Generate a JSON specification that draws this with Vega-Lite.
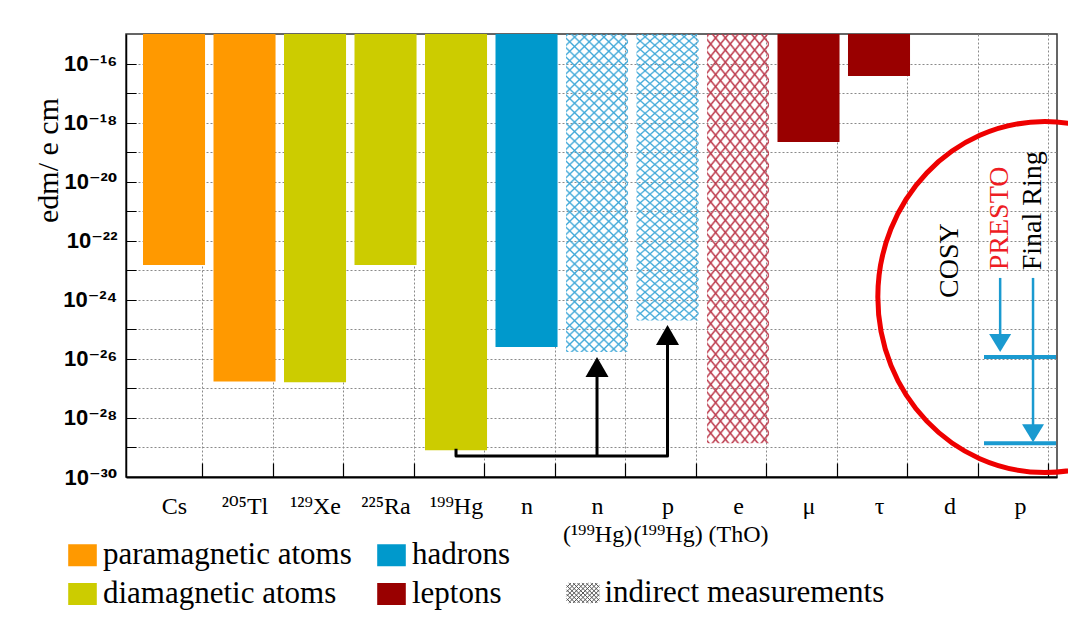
{
"$schema": "https://vega.github.io/schema/vega-lite/v6.json",
"width": 931, "height": 443,
"autosize": {"type": "none"},
"padding": {"left": 126, "top": 34, "right": 11, "bottom": 150},
"background": "white",
"config": {"view": {"stroke": "#333", "strokeWidth": 1.5}, "font": "Liberation Serif, DejaVu Serif", "legend": {"labelFont": "Liberation Serif, DejaVu Serif", "labelFontSize": 31, "labelColor": "black"}},
"datasets": {
"bars": [
{"cat":"Cs","group":"paramagnetic atoms","kind":"direct","value":1.5e-23},
{"cat":"²⁰⁵Tl","group":"paramagnetic atoms","kind":"direct","value":1.7e-27},
{"cat":"¹²⁹Xe","group":"diamagnetic atoms","kind":"direct","value":1.6e-27},
{"cat":"²²⁵Ra","group":"diamagnetic atoms","kind":"direct","value":1.5e-23},
{"cat":"¹⁹⁹Hg","group":"diamagnetic atoms","kind":"direct","value":8.0e-30},
{"cat":"n","group":"hadrons","kind":"direct","value":2.5e-26},
{"cat":"n|(¹⁹⁹Hg)","group":"hadrons","kind":"indirect","value":1.7e-26},
{"cat":"p|(¹⁹⁹Hg)","group":"hadrons","kind":"indirect","value":2.0e-25},
{"cat":"e|(ThO)","group":"leptons","kind":"indirect","value":1.4e-29},
{"cat":"μ","group":"leptons","kind":"direct","value":2.2e-19},
{"cat":"τ","group":"leptons","kind":"direct","value":3.8e-17}
],
"conn": [
{"path":"p","ord":1,"cat":"¹⁹⁹Hg","value":9e-30},
{"path":"p","ord":2,"cat":"¹⁹⁹Hg","value":5.1e-30},
{"path":"p","ord":3,"cat":"p|(¹⁹⁹Hg)","value":5.1e-30},
{"path":"p","ord":4,"cat":"p|(¹⁹⁹Hg)","value":6.4e-26},
{"path":"n","ord":1,"cat":"n|(¹⁹⁹Hg)","value":5.1e-30},
{"path":"n","ord":2,"cat":"n|(¹⁹⁹Hg)","value":5.3e-27}
],
"heads": [
{"cat":"n|(¹⁹⁹Hg)","value":1.15e-26},
{"cat":"p|(¹⁹⁹Hg)","value":1.4e-25}
],
"ring": [
{"cat":"p","label":"PRESTO","tv":1e-23,"from":5.5e-24,"to":3.7e-26,"tip":1.7e-26,"line":1.15e-26},
{"cat":"p","label":"Final Ring","tv":1e-23,"from":5.5e-24,"to":3.3e-29,"tip":1.5e-29,"line":1.4e-29}
]
},
"layer": [
{
"data": {"name": "bars"},
"transform": [{"filter": "datum.kind === 'direct'"}],
"mark": {"type": "bar"},
"encoding": {
"x": {"field": "cat", "type": "nominal", "sort": null,
"scale": {"type": "band", "domain": ["Cs","²⁰⁵Tl","¹²⁹Xe","²²⁵Ra","¹⁹⁹Hg","n","n|(¹⁹⁹Hg)","p|(¹⁹⁹Hg)","e|(ThO)","μ","τ","d","p"], "paddingInner": 0.12, "paddingOuter": 0.163, "align": 0.74},
"axis": {"title": null, "labelExpr": "split(datum.label, '|')", "labelFont": "Liberation Serif, DejaVu Serif", "labelFontSize": 24, "labelColor": "black", "labelLineHeight": 28, "labelPadding": 31, "labelAngle": 0, "labelOverlap": false, "labelBound": false, "labelLimit": 0, "tickSize": -14, "tickColor": "black", "tickWidth": 1.2, "tickOffset": 28, "labelOffset": -28, "grid": true, "gridDash": [2,2], "gridColor": "#8a8a8a", "gridWidth": 1, "domainColor": "black", "domainWidth": 2}},
"y": {"field": "value", "type": "quantitative",
"scale": {"type": "log", "domain": [1e-30, 1e-15], "nice": false},
"axis": {"title": "edm/ e cm", "titleFont": "Liberation Serif, DejaVu Serif", "titleFontSize": 30, "titleFontWeight": "normal", "titleColor": "black", "titleX": -78, "titleY": 126, "titleBaseline": "middle", "titleAngle": 270,
"values": [1e-30,1e-29,1e-28,1e-27,1e-26,1e-25,1e-24,1e-23,1e-22,1e-21,1e-20,1e-19,1e-18,1e-17,1e-16],
"labelExpr": "(round(-log(datum.value)/LN10) % 2 == 1) ? '' : ('10⁻' + substring('⁰¹²³⁴⁵⁶⁷⁸⁹', floor(round(-log(datum.value)/LN10)/10), floor(round(-log(datum.value)/LN10)/10)+1) + substring('⁰¹²³⁴⁵⁶⁷⁸⁹', round(-log(datum.value)/LN10)%10, round(-log(datum.value)/LN10)%10+1))",
"labelFont": "Liberation Sans, DejaVu Sans", "labelFontWeight": "bold", "labelFontSize": 22, "labelColor": "black", "labelPadding": 19, "labelOverlap": false, "tickSize": -10, "tickColor": "black", "grid": true, "gridDash": [2,2], "gridColor": "#8a8a8a", "gridWidth": 1, "domainColor": "black", "domainWidth": 1.5}},
"y2": {"datum": 1e-15},
"color": {"field": "group", "type": "nominal",
"scale": {"domain": ["paramagnetic atoms","diamagnetic atoms","hadrons","leptons"], "range": ["#ff9900","#cccc00","#0099cc","#990000"]},
"legend": {"title": null, "orient": "none", "legendX": -59, "legendY": 505.5, "columns": 2, "symbolType": "M-1.3,-1H1.3V1H-1.3Z", "symbolSize": 484, "symbolStrokeWidth": 0, "symbolOpacity": 1, "labelFont": "Liberation Serif", "labelFontSize": 31, "labelColor": "black", "labelLimit": 400, "labelOffset": 5, "columnPadding": 24, "rowPadding": 7, "padding": 0}}
}
},
{
"data": {"name": "bars"},
"transform": [{"filter": "datum.kind === 'indirect' && datum.group === 'hadrons'"}],
"mark": {"type": "bar", "fill": {"gradient":"linear","x1":0,"y1":0,"x2":0.2166,"y2":1.148,"stops":[
{"offset":0,"color":"#3fa8d800"},{"offset":0.005,"color":"#3fa8d8"},{"offset":0.01,"color":"#3fa8d800"},
{"offset":0.025,"color":"#3fa8d800"},{"offset":0.03,"color":"#3fa8d8"},{"offset":0.035,"color":"#3fa8d800"},
{"offset":0.05,"color":"#3fa8d800"},{"offset":0.055,"color":"#3fa8d8"},{"offset":0.06,"color":"#3fa8d800"},
{"offset":0.075,"color":"#3fa8d800"},{"offset":0.08,"color":"#3fa8d8"},{"offset":0.085,"color":"#3fa8d800"},
{"offset":0.1,"color":"#3fa8d800"},{"offset":0.105,"color":"#3fa8d8"},{"offset":0.11,"color":"#3fa8d800"},
{"offset":0.125,"color":"#3fa8d800"},{"offset":0.13,"color":"#3fa8d8"},{"offset":0.135,"color":"#3fa8d800"},
{"offset":0.15,"color":"#3fa8d800"},{"offset":0.155,"color":"#3fa8d8"},{"offset":0.16,"color":"#3fa8d800"},
{"offset":0.175,"color":"#3fa8d800"},{"offset":0.18,"color":"#3fa8d8"},{"offset":0.185,"color":"#3fa8d800"},
{"offset":0.2,"color":"#3fa8d800"},{"offset":0.205,"color":"#3fa8d8"},{"offset":0.21,"color":"#3fa8d800"},
{"offset":0.225,"color":"#3fa8d800"},{"offset":0.23,"color":"#3fa8d8"},{"offset":0.235,"color":"#3fa8d800"},
{"offset":0.25,"color":"#3fa8d800"},{"offset":0.255,"color":"#3fa8d8"},{"offset":0.26,"color":"#3fa8d800"},
{"offset":0.275,"color":"#3fa8d800"},{"offset":0.28,"color":"#3fa8d8"},{"offset":0.285,"color":"#3fa8d800"},
{"offset":0.3,"color":"#3fa8d800"},{"offset":0.305,"color":"#3fa8d8"},{"offset":0.31,"color":"#3fa8d800"},
{"offset":0.325,"color":"#3fa8d800"},{"offset":0.33,"color":"#3fa8d8"},{"offset":0.335,"color":"#3fa8d800"},
{"offset":0.35,"color":"#3fa8d800"},{"offset":0.355,"color":"#3fa8d8"},{"offset":0.36,"color":"#3fa8d800"},
{"offset":0.375,"color":"#3fa8d800"},{"offset":0.38,"color":"#3fa8d8"},{"offset":0.385,"color":"#3fa8d800"},
{"offset":0.4,"color":"#3fa8d800"},{"offset":0.405,"color":"#3fa8d8"},{"offset":0.41,"color":"#3fa8d800"},
{"offset":0.425,"color":"#3fa8d800"},{"offset":0.43,"color":"#3fa8d8"},{"offset":0.435,"color":"#3fa8d800"},
{"offset":0.45,"color":"#3fa8d800"},{"offset":0.455,"color":"#3fa8d8"},{"offset":0.46,"color":"#3fa8d800"},
{"offset":0.475,"color":"#3fa8d800"},{"offset":0.48,"color":"#3fa8d8"},{"offset":0.485,"color":"#3fa8d800"},
{"offset":0.5,"color":"#3fa8d800"},{"offset":0.505,"color":"#3fa8d8"},{"offset":0.51,"color":"#3fa8d800"},
{"offset":0.525,"color":"#3fa8d800"},{"offset":0.53,"color":"#3fa8d8"},{"offset":0.535,"color":"#3fa8d800"},
{"offset":0.55,"color":"#3fa8d800"},{"offset":0.555,"color":"#3fa8d8"},{"offset":0.56,"color":"#3fa8d800"},
{"offset":0.575,"color":"#3fa8d800"},{"offset":0.58,"color":"#3fa8d8"},{"offset":0.585,"color":"#3fa8d800"},
{"offset":0.6,"color":"#3fa8d800"},{"offset":0.605,"color":"#3fa8d8"},{"offset":0.61,"color":"#3fa8d800"},
{"offset":0.625,"color":"#3fa8d800"},{"offset":0.63,"color":"#3fa8d8"},{"offset":0.635,"color":"#3fa8d800"},
{"offset":0.65,"color":"#3fa8d800"},{"offset":0.655,"color":"#3fa8d8"},{"offset":0.66,"color":"#3fa8d800"},
{"offset":0.675,"color":"#3fa8d800"},{"offset":0.68,"color":"#3fa8d8"},{"offset":0.685,"color":"#3fa8d800"},
{"offset":0.7,"color":"#3fa8d800"},{"offset":0.705,"color":"#3fa8d8"},{"offset":0.71,"color":"#3fa8d800"},
{"offset":0.725,"color":"#3fa8d800"},{"offset":0.73,"color":"#3fa8d8"},{"offset":0.735,"color":"#3fa8d800"},
{"offset":0.75,"color":"#3fa8d800"},{"offset":0.755,"color":"#3fa8d8"},{"offset":0.76,"color":"#3fa8d800"},
{"offset":0.775,"color":"#3fa8d800"},{"offset":0.78,"color":"#3fa8d8"},{"offset":0.785,"color":"#3fa8d800"},
{"offset":0.8,"color":"#3fa8d800"},{"offset":0.805,"color":"#3fa8d8"},{"offset":0.81,"color":"#3fa8d800"},
{"offset":0.825,"color":"#3fa8d800"},{"offset":0.83,"color":"#3fa8d8"},{"offset":0.835,"color":"#3fa8d800"},
{"offset":0.85,"color":"#3fa8d800"},{"offset":0.855,"color":"#3fa8d8"},{"offset":0.86,"color":"#3fa8d800"},
{"offset":0.875,"color":"#3fa8d800"},{"offset":0.88,"color":"#3fa8d8"},{"offset":0.885,"color":"#3fa8d800"},
{"offset":0.9,"color":"#3fa8d800"},{"offset":0.905,"color":"#3fa8d8"},{"offset":0.91,"color":"#3fa8d800"},
{"offset":0.925,"color":"#3fa8d800"},{"offset":0.93,"color":"#3fa8d8"},{"offset":0.935,"color":"#3fa8d800"},
{"offset":0.95,"color":"#3fa8d800"},{"offset":0.955,"color":"#3fa8d8"},{"offset":0.96,"color":"#3fa8d800"},
{"offset":0.975,"color":"#3fa8d800"},{"offset":0.98,"color":"#3fa8d8"},{"offset":0.985,"color":"#3fa8d800"}
]}},
"encoding": {"x": {"field": "cat", "type": "nominal"}, "y": {"field": "value", "type": "quantitative"}, "y2": {"datum": 1e-15}}
},
{
"data": {"name": "bars"},
"transform": [{"filter": "datum.kind === 'indirect' && datum.group === 'hadrons'"}],
"mark": {"type": "bar", "fill": {"gradient":"linear","x1":0,"y1":1,"x2":0.2166,"y2":-0.148,"stops":[
{"offset":0,"color":"#3fa8d800"},{"offset":0.005,"color":"#3fa8d8"},{"offset":0.01,"color":"#3fa8d800"},
{"offset":0.025,"color":"#3fa8d800"},{"offset":0.03,"color":"#3fa8d8"},{"offset":0.035,"color":"#3fa8d800"},
{"offset":0.05,"color":"#3fa8d800"},{"offset":0.055,"color":"#3fa8d8"},{"offset":0.06,"color":"#3fa8d800"},
{"offset":0.075,"color":"#3fa8d800"},{"offset":0.08,"color":"#3fa8d8"},{"offset":0.085,"color":"#3fa8d800"},
{"offset":0.1,"color":"#3fa8d800"},{"offset":0.105,"color":"#3fa8d8"},{"offset":0.11,"color":"#3fa8d800"},
{"offset":0.125,"color":"#3fa8d800"},{"offset":0.13,"color":"#3fa8d8"},{"offset":0.135,"color":"#3fa8d800"},
{"offset":0.15,"color":"#3fa8d800"},{"offset":0.155,"color":"#3fa8d8"},{"offset":0.16,"color":"#3fa8d800"},
{"offset":0.175,"color":"#3fa8d800"},{"offset":0.18,"color":"#3fa8d8"},{"offset":0.185,"color":"#3fa8d800"},
{"offset":0.2,"color":"#3fa8d800"},{"offset":0.205,"color":"#3fa8d8"},{"offset":0.21,"color":"#3fa8d800"},
{"offset":0.225,"color":"#3fa8d800"},{"offset":0.23,"color":"#3fa8d8"},{"offset":0.235,"color":"#3fa8d800"},
{"offset":0.25,"color":"#3fa8d800"},{"offset":0.255,"color":"#3fa8d8"},{"offset":0.26,"color":"#3fa8d800"},
{"offset":0.275,"color":"#3fa8d800"},{"offset":0.28,"color":"#3fa8d8"},{"offset":0.285,"color":"#3fa8d800"},
{"offset":0.3,"color":"#3fa8d800"},{"offset":0.305,"color":"#3fa8d8"},{"offset":0.31,"color":"#3fa8d800"},
{"offset":0.325,"color":"#3fa8d800"},{"offset":0.33,"color":"#3fa8d8"},{"offset":0.335,"color":"#3fa8d800"},
{"offset":0.35,"color":"#3fa8d800"},{"offset":0.355,"color":"#3fa8d8"},{"offset":0.36,"color":"#3fa8d800"},
{"offset":0.375,"color":"#3fa8d800"},{"offset":0.38,"color":"#3fa8d8"},{"offset":0.385,"color":"#3fa8d800"},
{"offset":0.4,"color":"#3fa8d800"},{"offset":0.405,"color":"#3fa8d8"},{"offset":0.41,"color":"#3fa8d800"},
{"offset":0.425,"color":"#3fa8d800"},{"offset":0.43,"color":"#3fa8d8"},{"offset":0.435,"color":"#3fa8d800"},
{"offset":0.45,"color":"#3fa8d800"},{"offset":0.455,"color":"#3fa8d8"},{"offset":0.46,"color":"#3fa8d800"},
{"offset":0.475,"color":"#3fa8d800"},{"offset":0.48,"color":"#3fa8d8"},{"offset":0.485,"color":"#3fa8d800"},
{"offset":0.5,"color":"#3fa8d800"},{"offset":0.505,"color":"#3fa8d8"},{"offset":0.51,"color":"#3fa8d800"},
{"offset":0.525,"color":"#3fa8d800"},{"offset":0.53,"color":"#3fa8d8"},{"offset":0.535,"color":"#3fa8d800"},
{"offset":0.55,"color":"#3fa8d800"},{"offset":0.555,"color":"#3fa8d8"},{"offset":0.56,"color":"#3fa8d800"},
{"offset":0.575,"color":"#3fa8d800"},{"offset":0.58,"color":"#3fa8d8"},{"offset":0.585,"color":"#3fa8d800"},
{"offset":0.6,"color":"#3fa8d800"},{"offset":0.605,"color":"#3fa8d8"},{"offset":0.61,"color":"#3fa8d800"},
{"offset":0.625,"color":"#3fa8d800"},{"offset":0.63,"color":"#3fa8d8"},{"offset":0.635,"color":"#3fa8d800"},
{"offset":0.65,"color":"#3fa8d800"},{"offset":0.655,"color":"#3fa8d8"},{"offset":0.66,"color":"#3fa8d800"},
{"offset":0.675,"color":"#3fa8d800"},{"offset":0.68,"color":"#3fa8d8"},{"offset":0.685,"color":"#3fa8d800"},
{"offset":0.7,"color":"#3fa8d800"},{"offset":0.705,"color":"#3fa8d8"},{"offset":0.71,"color":"#3fa8d800"},
{"offset":0.725,"color":"#3fa8d800"},{"offset":0.73,"color":"#3fa8d8"},{"offset":0.735,"color":"#3fa8d800"},
{"offset":0.75,"color":"#3fa8d800"},{"offset":0.755,"color":"#3fa8d8"},{"offset":0.76,"color":"#3fa8d800"},
{"offset":0.775,"color":"#3fa8d800"},{"offset":0.78,"color":"#3fa8d8"},{"offset":0.785,"color":"#3fa8d800"},
{"offset":0.8,"color":"#3fa8d800"},{"offset":0.805,"color":"#3fa8d8"},{"offset":0.81,"color":"#3fa8d800"},
{"offset":0.825,"color":"#3fa8d800"},{"offset":0.83,"color":"#3fa8d8"},{"offset":0.835,"color":"#3fa8d800"},
{"offset":0.85,"color":"#3fa8d800"},{"offset":0.855,"color":"#3fa8d8"},{"offset":0.86,"color":"#3fa8d800"},
{"offset":0.875,"color":"#3fa8d800"},{"offset":0.88,"color":"#3fa8d8"},{"offset":0.885,"color":"#3fa8d800"},
{"offset":0.9,"color":"#3fa8d800"},{"offset":0.905,"color":"#3fa8d8"},{"offset":0.91,"color":"#3fa8d800"},
{"offset":0.925,"color":"#3fa8d800"},{"offset":0.93,"color":"#3fa8d8"},{"offset":0.935,"color":"#3fa8d800"},
{"offset":0.95,"color":"#3fa8d800"},{"offset":0.955,"color":"#3fa8d8"},{"offset":0.96,"color":"#3fa8d800"},
{"offset":0.975,"color":"#3fa8d800"},{"offset":0.98,"color":"#3fa8d8"},{"offset":0.985,"color":"#3fa8d800"}
]}},
"encoding": {"x": {"field": "cat", "type": "nominal"}, "y": {"field": "value", "type": "quantitative"}, "y2": {"datum": 1e-15}}
},
{
"data": {"name": "bars"},
"transform": [{"filter": "datum.kind === 'indirect' && datum.group === 'leptons'"}],
"mark": {"type": "bar", "fill": {"gradient":"linear","x1":0,"y1":0,"x2":0.2166,"y2":1.148,"stops":[
{"offset":0,"color":"#bc3a4c00"},{"offset":0.005,"color":"#bc3a4c"},{"offset":0.01,"color":"#bc3a4c00"},
{"offset":0.025,"color":"#bc3a4c00"},{"offset":0.03,"color":"#bc3a4c"},{"offset":0.035,"color":"#bc3a4c00"},
{"offset":0.05,"color":"#bc3a4c00"},{"offset":0.055,"color":"#bc3a4c"},{"offset":0.06,"color":"#bc3a4c00"},
{"offset":0.075,"color":"#bc3a4c00"},{"offset":0.08,"color":"#bc3a4c"},{"offset":0.085,"color":"#bc3a4c00"},
{"offset":0.1,"color":"#bc3a4c00"},{"offset":0.105,"color":"#bc3a4c"},{"offset":0.11,"color":"#bc3a4c00"},
{"offset":0.125,"color":"#bc3a4c00"},{"offset":0.13,"color":"#bc3a4c"},{"offset":0.135,"color":"#bc3a4c00"},
{"offset":0.15,"color":"#bc3a4c00"},{"offset":0.155,"color":"#bc3a4c"},{"offset":0.16,"color":"#bc3a4c00"},
{"offset":0.175,"color":"#bc3a4c00"},{"offset":0.18,"color":"#bc3a4c"},{"offset":0.185,"color":"#bc3a4c00"},
{"offset":0.2,"color":"#bc3a4c00"},{"offset":0.205,"color":"#bc3a4c"},{"offset":0.21,"color":"#bc3a4c00"},
{"offset":0.225,"color":"#bc3a4c00"},{"offset":0.23,"color":"#bc3a4c"},{"offset":0.235,"color":"#bc3a4c00"},
{"offset":0.25,"color":"#bc3a4c00"},{"offset":0.255,"color":"#bc3a4c"},{"offset":0.26,"color":"#bc3a4c00"},
{"offset":0.275,"color":"#bc3a4c00"},{"offset":0.28,"color":"#bc3a4c"},{"offset":0.285,"color":"#bc3a4c00"},
{"offset":0.3,"color":"#bc3a4c00"},{"offset":0.305,"color":"#bc3a4c"},{"offset":0.31,"color":"#bc3a4c00"},
{"offset":0.325,"color":"#bc3a4c00"},{"offset":0.33,"color":"#bc3a4c"},{"offset":0.335,"color":"#bc3a4c00"},
{"offset":0.35,"color":"#bc3a4c00"},{"offset":0.355,"color":"#bc3a4c"},{"offset":0.36,"color":"#bc3a4c00"},
{"offset":0.375,"color":"#bc3a4c00"},{"offset":0.38,"color":"#bc3a4c"},{"offset":0.385,"color":"#bc3a4c00"},
{"offset":0.4,"color":"#bc3a4c00"},{"offset":0.405,"color":"#bc3a4c"},{"offset":0.41,"color":"#bc3a4c00"},
{"offset":0.425,"color":"#bc3a4c00"},{"offset":0.43,"color":"#bc3a4c"},{"offset":0.435,"color":"#bc3a4c00"},
{"offset":0.45,"color":"#bc3a4c00"},{"offset":0.455,"color":"#bc3a4c"},{"offset":0.46,"color":"#bc3a4c00"},
{"offset":0.475,"color":"#bc3a4c00"},{"offset":0.48,"color":"#bc3a4c"},{"offset":0.485,"color":"#bc3a4c00"},
{"offset":0.5,"color":"#bc3a4c00"},{"offset":0.505,"color":"#bc3a4c"},{"offset":0.51,"color":"#bc3a4c00"},
{"offset":0.525,"color":"#bc3a4c00"},{"offset":0.53,"color":"#bc3a4c"},{"offset":0.535,"color":"#bc3a4c00"},
{"offset":0.55,"color":"#bc3a4c00"},{"offset":0.555,"color":"#bc3a4c"},{"offset":0.56,"color":"#bc3a4c00"},
{"offset":0.575,"color":"#bc3a4c00"},{"offset":0.58,"color":"#bc3a4c"},{"offset":0.585,"color":"#bc3a4c00"},
{"offset":0.6,"color":"#bc3a4c00"},{"offset":0.605,"color":"#bc3a4c"},{"offset":0.61,"color":"#bc3a4c00"},
{"offset":0.625,"color":"#bc3a4c00"},{"offset":0.63,"color":"#bc3a4c"},{"offset":0.635,"color":"#bc3a4c00"},
{"offset":0.65,"color":"#bc3a4c00"},{"offset":0.655,"color":"#bc3a4c"},{"offset":0.66,"color":"#bc3a4c00"},
{"offset":0.675,"color":"#bc3a4c00"},{"offset":0.68,"color":"#bc3a4c"},{"offset":0.685,"color":"#bc3a4c00"},
{"offset":0.7,"color":"#bc3a4c00"},{"offset":0.705,"color":"#bc3a4c"},{"offset":0.71,"color":"#bc3a4c00"},
{"offset":0.725,"color":"#bc3a4c00"},{"offset":0.73,"color":"#bc3a4c"},{"offset":0.735,"color":"#bc3a4c00"},
{"offset":0.75,"color":"#bc3a4c00"},{"offset":0.755,"color":"#bc3a4c"},{"offset":0.76,"color":"#bc3a4c00"},
{"offset":0.775,"color":"#bc3a4c00"},{"offset":0.78,"color":"#bc3a4c"},{"offset":0.785,"color":"#bc3a4c00"},
{"offset":0.8,"color":"#bc3a4c00"},{"offset":0.805,"color":"#bc3a4c"},{"offset":0.81,"color":"#bc3a4c00"},
{"offset":0.825,"color":"#bc3a4c00"},{"offset":0.83,"color":"#bc3a4c"},{"offset":0.835,"color":"#bc3a4c00"},
{"offset":0.85,"color":"#bc3a4c00"},{"offset":0.855,"color":"#bc3a4c"},{"offset":0.86,"color":"#bc3a4c00"},
{"offset":0.875,"color":"#bc3a4c00"},{"offset":0.88,"color":"#bc3a4c"},{"offset":0.885,"color":"#bc3a4c00"},
{"offset":0.9,"color":"#bc3a4c00"},{"offset":0.905,"color":"#bc3a4c"},{"offset":0.91,"color":"#bc3a4c00"},
{"offset":0.925,"color":"#bc3a4c00"},{"offset":0.93,"color":"#bc3a4c"},{"offset":0.935,"color":"#bc3a4c00"},
{"offset":0.95,"color":"#bc3a4c00"},{"offset":0.955,"color":"#bc3a4c"},{"offset":0.96,"color":"#bc3a4c00"},
{"offset":0.975,"color":"#bc3a4c00"},{"offset":0.98,"color":"#bc3a4c"},{"offset":0.985,"color":"#bc3a4c00"}
]}},
"encoding": {"x": {"field": "cat", "type": "nominal"}, "y": {"field": "value", "type": "quantitative"}, "y2": {"datum": 1e-15}}
},
{
"data": {"name": "bars"},
"transform": [{"filter": "datum.kind === 'indirect' && datum.group === 'leptons'"}],
"mark": {"type": "bar", "fill": {"gradient":"linear","x1":0,"y1":1,"x2":0.2166,"y2":-0.148,"stops":[
{"offset":0,"color":"#bc3a4c00"},{"offset":0.005,"color":"#bc3a4c"},{"offset":0.01,"color":"#bc3a4c00"},
{"offset":0.025,"color":"#bc3a4c00"},{"offset":0.03,"color":"#bc3a4c"},{"offset":0.035,"color":"#bc3a4c00"},
{"offset":0.05,"color":"#bc3a4c00"},{"offset":0.055,"color":"#bc3a4c"},{"offset":0.06,"color":"#bc3a4c00"},
{"offset":0.075,"color":"#bc3a4c00"},{"offset":0.08,"color":"#bc3a4c"},{"offset":0.085,"color":"#bc3a4c00"},
{"offset":0.1,"color":"#bc3a4c00"},{"offset":0.105,"color":"#bc3a4c"},{"offset":0.11,"color":"#bc3a4c00"},
{"offset":0.125,"color":"#bc3a4c00"},{"offset":0.13,"color":"#bc3a4c"},{"offset":0.135,"color":"#bc3a4c00"},
{"offset":0.15,"color":"#bc3a4c00"},{"offset":0.155,"color":"#bc3a4c"},{"offset":0.16,"color":"#bc3a4c00"},
{"offset":0.175,"color":"#bc3a4c00"},{"offset":0.18,"color":"#bc3a4c"},{"offset":0.185,"color":"#bc3a4c00"},
{"offset":0.2,"color":"#bc3a4c00"},{"offset":0.205,"color":"#bc3a4c"},{"offset":0.21,"color":"#bc3a4c00"},
{"offset":0.225,"color":"#bc3a4c00"},{"offset":0.23,"color":"#bc3a4c"},{"offset":0.235,"color":"#bc3a4c00"},
{"offset":0.25,"color":"#bc3a4c00"},{"offset":0.255,"color":"#bc3a4c"},{"offset":0.26,"color":"#bc3a4c00"},
{"offset":0.275,"color":"#bc3a4c00"},{"offset":0.28,"color":"#bc3a4c"},{"offset":0.285,"color":"#bc3a4c00"},
{"offset":0.3,"color":"#bc3a4c00"},{"offset":0.305,"color":"#bc3a4c"},{"offset":0.31,"color":"#bc3a4c00"},
{"offset":0.325,"color":"#bc3a4c00"},{"offset":0.33,"color":"#bc3a4c"},{"offset":0.335,"color":"#bc3a4c00"},
{"offset":0.35,"color":"#bc3a4c00"},{"offset":0.355,"color":"#bc3a4c"},{"offset":0.36,"color":"#bc3a4c00"},
{"offset":0.375,"color":"#bc3a4c00"},{"offset":0.38,"color":"#bc3a4c"},{"offset":0.385,"color":"#bc3a4c00"},
{"offset":0.4,"color":"#bc3a4c00"},{"offset":0.405,"color":"#bc3a4c"},{"offset":0.41,"color":"#bc3a4c00"},
{"offset":0.425,"color":"#bc3a4c00"},{"offset":0.43,"color":"#bc3a4c"},{"offset":0.435,"color":"#bc3a4c00"},
{"offset":0.45,"color":"#bc3a4c00"},{"offset":0.455,"color":"#bc3a4c"},{"offset":0.46,"color":"#bc3a4c00"},
{"offset":0.475,"color":"#bc3a4c00"},{"offset":0.48,"color":"#bc3a4c"},{"offset":0.485,"color":"#bc3a4c00"},
{"offset":0.5,"color":"#bc3a4c00"},{"offset":0.505,"color":"#bc3a4c"},{"offset":0.51,"color":"#bc3a4c00"},
{"offset":0.525,"color":"#bc3a4c00"},{"offset":0.53,"color":"#bc3a4c"},{"offset":0.535,"color":"#bc3a4c00"},
{"offset":0.55,"color":"#bc3a4c00"},{"offset":0.555,"color":"#bc3a4c"},{"offset":0.56,"color":"#bc3a4c00"},
{"offset":0.575,"color":"#bc3a4c00"},{"offset":0.58,"color":"#bc3a4c"},{"offset":0.585,"color":"#bc3a4c00"},
{"offset":0.6,"color":"#bc3a4c00"},{"offset":0.605,"color":"#bc3a4c"},{"offset":0.61,"color":"#bc3a4c00"},
{"offset":0.625,"color":"#bc3a4c00"},{"offset":0.63,"color":"#bc3a4c"},{"offset":0.635,"color":"#bc3a4c00"},
{"offset":0.65,"color":"#bc3a4c00"},{"offset":0.655,"color":"#bc3a4c"},{"offset":0.66,"color":"#bc3a4c00"},
{"offset":0.675,"color":"#bc3a4c00"},{"offset":0.68,"color":"#bc3a4c"},{"offset":0.685,"color":"#bc3a4c00"},
{"offset":0.7,"color":"#bc3a4c00"},{"offset":0.705,"color":"#bc3a4c"},{"offset":0.71,"color":"#bc3a4c00"},
{"offset":0.725,"color":"#bc3a4c00"},{"offset":0.73,"color":"#bc3a4c"},{"offset":0.735,"color":"#bc3a4c00"},
{"offset":0.75,"color":"#bc3a4c00"},{"offset":0.755,"color":"#bc3a4c"},{"offset":0.76,"color":"#bc3a4c00"},
{"offset":0.775,"color":"#bc3a4c00"},{"offset":0.78,"color":"#bc3a4c"},{"offset":0.785,"color":"#bc3a4c00"},
{"offset":0.8,"color":"#bc3a4c00"},{"offset":0.805,"color":"#bc3a4c"},{"offset":0.81,"color":"#bc3a4c00"},
{"offset":0.825,"color":"#bc3a4c00"},{"offset":0.83,"color":"#bc3a4c"},{"offset":0.835,"color":"#bc3a4c00"},
{"offset":0.85,"color":"#bc3a4c00"},{"offset":0.855,"color":"#bc3a4c"},{"offset":0.86,"color":"#bc3a4c00"},
{"offset":0.875,"color":"#bc3a4c00"},{"offset":0.88,"color":"#bc3a4c"},{"offset":0.885,"color":"#bc3a4c00"},
{"offset":0.9,"color":"#bc3a4c00"},{"offset":0.905,"color":"#bc3a4c"},{"offset":0.91,"color":"#bc3a4c00"},
{"offset":0.925,"color":"#bc3a4c00"},{"offset":0.93,"color":"#bc3a4c"},{"offset":0.935,"color":"#bc3a4c00"},
{"offset":0.95,"color":"#bc3a4c00"},{"offset":0.955,"color":"#bc3a4c"},{"offset":0.96,"color":"#bc3a4c00"},
{"offset":0.975,"color":"#bc3a4c00"},{"offset":0.98,"color":"#bc3a4c"},{"offset":0.985,"color":"#bc3a4c00"}
]}},
"encoding": {"x": {"field": "cat", "type": "nominal"}, "y": {"field": "value", "type": "quantitative"}, "y2": {"datum": 1e-15}}
},
{
"data": {"name": "conn"},
"mark": {"type": "line", "color": "black", "strokeWidth": 3, "strokeJoin": "round"},
"encoding": {"x": {"field": "cat", "type": "nominal"}, "y": {"field": "value", "type": "quantitative"}, "detail": {"field": "path"}, "order": {"field": "ord", "type": "quantitative"}}
},
{
"data": {"name": "heads"},
"mark": {"type": "point", "shape": "M0,0L1.15,2L-1.15,2Z", "size": 400, "filled": true, "color": "black", "opacity": 1, "strokeWidth": 0},
"encoding": {"x": {"field": "cat", "type": "nominal"}, "y": {"field": "value", "type": "quantitative"}}
},
{
"data": {"values": [{"cat": "d", "label": "COSY", "value": 1.15e-24}]},
"mark": {"type": "text", "angle": 270, "align": "left", "baseline": "middle", "font": "Liberation Serif, DejaVu Serif", "fontSize": 28, "color": "black"},
"encoding": {"x": {"field": "cat", "type": "nominal"}, "y": {"field": "value", "type": "quantitative"}, "text": {"field": "label"}}
},
{
"data": {"name": "ring"},
"mark": {"type": "tick", "orient": "horizontal", "color": "#1a9ad0", "thickness": 4, "size": 72, "opacity": 1},
"encoding": {"x": {"field": "cat", "type": "nominal"}, "y": {"field": "line", "type": "quantitative"}}
},
{
"data": {"name": "ring"},
"transform": [{"filter": "datum.label === 'PRESTO'"}],
"encoding": {"x": {"field": "cat", "type": "nominal", "bandPosition": 0.18}},
"layer": [
{"mark": {"type": "text", "angle": 270, "align": "left", "baseline": "middle", "font": "Liberation Serif, DejaVu Serif", "fontSize": 28, "color": "#ee1c24"},
 "encoding": {"y": {"field": "tv", "type": "quantitative"}, "text": {"field": "label"}}},
{"mark": {"type": "rule", "color": "#1a9ad0", "strokeWidth": 2.5},
 "encoding": {"y": {"field": "from", "type": "quantitative"}, "y2": {"field": "to"}}},
{"mark": {"type": "point", "shape": "M0,0L-1.1,-1.8L1.1,-1.8Z", "size": 400, "filled": true, "color": "#1a9ad0", "opacity": 1, "strokeWidth": 0},
 "encoding": {"y": {"field": "tip", "type": "quantitative"}}}
]
},
{
"data": {"name": "ring"},
"transform": [{"filter": "datum.label === 'Final Ring'"}],
"encoding": {"x": {"field": "cat", "type": "nominal", "bandPosition": 0.71}},
"layer": [
{"mark": {"type": "text", "angle": 270, "align": "left", "baseline": "middle", "font": "Liberation Serif, DejaVu Serif", "fontSize": 28, "color": "black"},
 "encoding": {"y": {"field": "tv", "type": "quantitative"}, "text": {"field": "label"}}},
{"mark": {"type": "rule", "color": "#1a9ad0", "strokeWidth": 2.5},
 "encoding": {"y": {"field": "from", "type": "quantitative"}, "y2": {"field": "to"}}},
{"mark": {"type": "point", "shape": "M0,0L-1.1,-1.8L1.1,-1.8Z", "size": 400, "filled": true, "color": "#1a9ad0", "opacity": 1, "strokeWidth": 0},
 "encoding": {"y": {"field": "tip", "type": "quantitative"}}}
]
},
{
"data": {"values": [{"cat": "p", "value": 1.24e-24}]},
"mark": {"type": "point", "shape": "M-1.67,0C-1.67,-0.969,-0.922,-1.755,0,-1.755C0.922,-1.755,1.67,-0.969,1.67,0C1.67,0.969,0.922,1.755,0,1.755C-0.922,1.755,-1.67,0.969,-1.67,0Z", "size": 40000, "filled": false, "color": "#ee0000", "strokeWidth": 5, "opacity": 1},
"encoding": {"x": {"field": "cat", "type": "nominal", "bandPosition": 0.9}, "y": {"field": "value", "type": "quantitative"}}
},
{
"data": {"values": [{"k": "indirect measurements"}]},
"mark": {"type": "point", "opacity": 0, "filled": false},
"encoding": {"shape": {"field": "k", "type": "nominal",
"scale": {"range": ["M-1.5,-0.5L-1.1,-0.9M-1.5,-0.1L-0.7,-0.9M-1.5,0.3L-0.3,-0.9M-1.5,0.7L0.1,-0.9M-1.3,0.9L0.5,-0.9M-0.9,0.9L0.9,-0.9M-0.5,0.9L1.3,-0.9M-0.1,0.9L1.5,-0.7M0.3,0.9L1.5,-0.3M0.7,0.9L1.5,0.1M1.1,0.9L1.5,0.5M-1.5,0.5L-1.1,0.9M-1.5,0.1L-0.7,0.9M-1.5,-0.3L-0.3,0.9M-1.5,-0.7L0.1,0.9M-1.3,-0.9L0.5,0.9M-0.9,-0.9L0.9,0.9M-0.5,-0.9L1.3,0.9M-0.1,-0.9L1.5,0.7M0.3,-0.9L1.5,0.3M0.7,-0.9L1.5,-0.1M1.1,-0.9L1.5,-0.5"]},
"legend": {"title": null, "orient": "none", "legendX": 441.5, "legendY": 543.5, "symbolSize": 484, "symbolStrokeColor": "#555", "symbolStrokeWidth": 1, "symbolFillColor": "transparent", "symbolOpacity": 1, "labelFont": "Liberation Serif", "labelFontSize": 31, "labelColor": "black", "labelLimit": 400, "labelOffset": 6, "padding": 0}}}
}
]
}
